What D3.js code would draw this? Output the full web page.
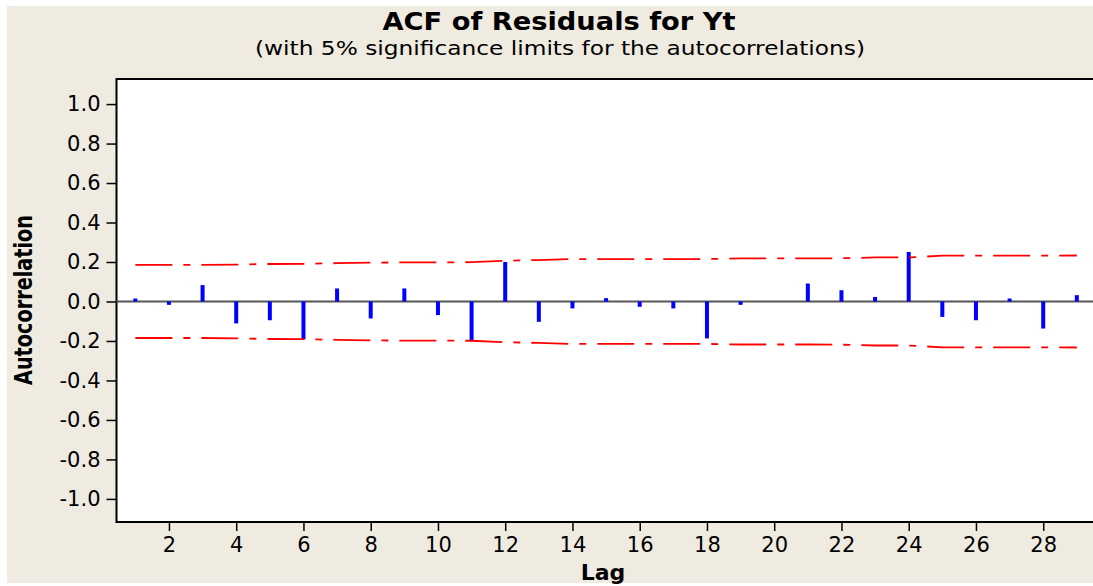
<!DOCTYPE html>
<meta charset="utf-8">
<html>
  <head>
  <title>ACF of Residuals</title>
    <style>
      body { margin: 0; background: #fff; }
      .tick text { font-family: 'DejaVu Sans', Verdana, sans-serif; font-size: 21px; fill: #000; }
      .tick line { stroke: #000; stroke-width: 1.5; }
    </style>
  </head>
  <body>
<div id="chart"></div>
<script src="https://d3js.org/d3.v7.min.js"></script>
<script>

var lags = [1,2,3,4,5,6,7,8,9,10,11,12,13,14,15,16,17,18,19,20,21,22,23,24,25,26,27,28,29]

var acf = [0.015,-0.017,0.083,-0.111,-0.095,-0.192,0.066,-0.086,0.066,-0.069,-0.201,0.200,-0.103,-0.035,0.017,-0.027,-0.035,-0.187,-0.017,0.000,0.091,0.057,0.023,0.251,-0.078,-0.095,0.015,-0.137,0.032]

// upper limit at each lag (lower is the negative)
var limits = [0.185,0.185,0.185,0.187,0.190,0.191,0.194,0.197,0.198,0.198,0.199,0.206,0.210,0.215,0.215,0.215,0.215,0.215,0.218,0.218,0.218,0.219,0.223,0.223,0.232,0.232,0.232,0.232,0.233]

var yTicks = [-1.0,-0.8,-0.6,-0.4,-0.2,0.0,0.2,0.4,0.6,0.8,1.0]
var xTicks = [2,4,6,8,10,12,14,16,18,20,22,24,26,28]

var width = 1093;
var height = 586;

var svg = d3.select("#chart")
  .append("svg")
    .attr("width", width)
    .attr("height", height);

// beige background
svg.append("rect")
  .attr("x", 7).attr("y", 6)
  .attr("width", width - 7).attr("height", 577)
  .style("fill", "#efebe1");

var pLeft = 116.5, pRight = 1096, pTop = 79, pBottom = 522;

var x = d3.scaleLinear().domain([0.44, 29.57]).range([pLeft, pRight]);
var y = d3.scaleLinear().domain([-1.117, 1.127]).range([pBottom, pTop]);

// plot area
svg.append("rect")
  .attr("x", pLeft).attr("y", pTop)
  .attr("width", pRight - pLeft).attr("height", pBottom - pTop)
  .style("fill", "#fff")
  .style("stroke", "#000")
  .style("stroke-width", 2);

svg.append("g")
  .attr("transform", "translate(" + pLeft + ",0)")
  .call(d3.axisLeft(y).tickValues(yTicks).tickSize(10).tickPadding(6)
    .tickFormat(function(d){ return d.toFixed(1); }))
  .call(function(g){ g.select(".domain").remove(); });

svg.append("g")
  .attr("transform", "translate(0," + pBottom + ")")
  .call(d3.axisBottom(x).tickValues(xTicks).tickSize(9).tickPadding(6))
  .call(function(g){ g.select(".domain").remove(); });

// zero line
svg.append("line")
  .attr("x1", pLeft).attr("x2", pRight)
  .attr("y1", y(0)).attr("y2", y(0))
  .style("stroke", "#555")
  .style("stroke-width", 2);

// bars
svg.selectAll(".bar")
  .data(lags).enter()
  .append("rect")
    .attr("class", "bar")
    .attr("x", function(d){ return x(d) - 2; })
    .attr("width", 4)
    .attr("y", function(d,i){ return y(Math.max(0, acf[i])); })
    .attr("height", function(d,i){ return Math.abs(y(acf[i]) - y(0)); })
    .style("fill", "#0000ff");

// significance limits
var upper = d3.line()
  .x(function(d){ return x(d); })
  .y(function(d,i){ return y(limits[i]); });
var lower = d3.line()
  .x(function(d){ return x(d); })
  .y(function(d,i){ return y(-limits[i]); });

[upper, lower].forEach(function(ln){
  svg.append("path")
    .datum(lags)
    .attr("d", ln)
    .style("fill", "none")
    .style("stroke", "#ff0000")
    .style("stroke-width", 1.8)
    .style("stroke-dasharray", "37,11,7,11");
});

// titles
svg.append("text")
  .attr("x", 559).attr("y", 30)
  .attr("text-anchor", "middle")
  .attr("textLength", 353)
  .attr("lengthAdjust", "spacingAndGlyphs")
  .style("font-family", "'DejaVu Sans', Verdana, sans-serif")
  .style("font-weight", "bold")
  .style("font-size", "24px")
  .text("ACF of Residuals for Yt");

svg.append("text")
  .attr("x", 560).attr("y", 55)
  .attr("text-anchor", "middle")
  .attr("textLength", 610)
  .attr("lengthAdjust", "spacingAndGlyphs")
  .style("font-family", "'DejaVu Sans', Verdana, sans-serif")
  .style("font-size", "20px")
  .text("(with 5% significance limits for the autocorrelations)");

svg.append("text")
  .attr("x", 603).attr("y", 580)
  .attr("text-anchor", "middle")
  .style("font-family", "'DejaVu Sans', Verdana, sans-serif")
  .style("font-weight", "bold")
  .style("font-size", "22px")
  .text("Lag");

svg.append("text")
  .attr("transform", "translate(32,300) rotate(-90)")
  .attr("text-anchor", "middle")
  .attr("textLength", 170)
  .attr("lengthAdjust", "spacingAndGlyphs")
  .style("font-family", "'Liberation Sans Narrow', 'DejaVu Sans Condensed', sans-serif")
  .style("font-weight", "bold")
  .style("font-size", "25px")
  .text("Autocorrelation");

</script>
  </body>
</html>
